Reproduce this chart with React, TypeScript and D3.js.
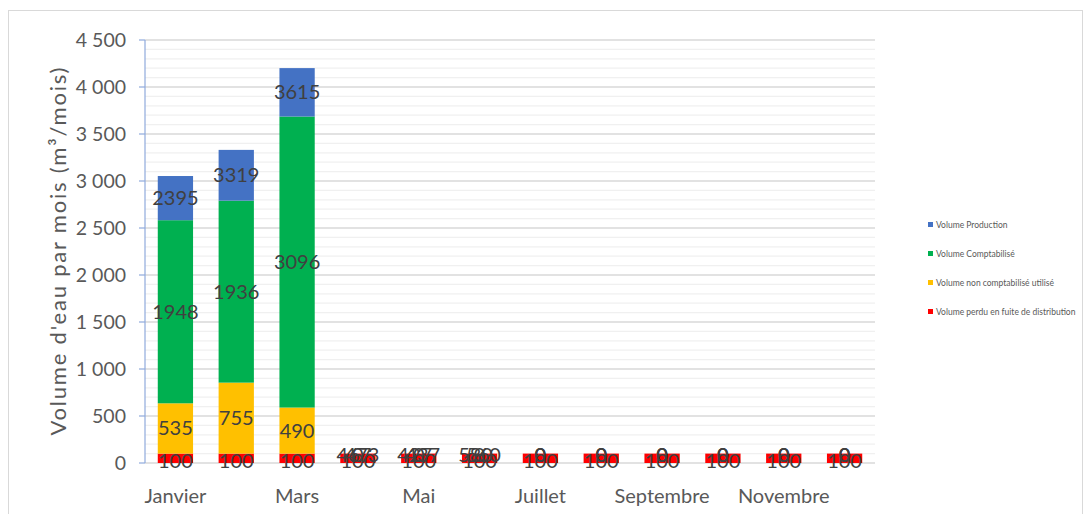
import React from "react"
import * as d3 from "d3"

// Data
const months = ["Janvier", "Février", "Mars", "Avril", "Mai", "Juin", "Juillet", "Août", "Septembre", "Octobre", "Novembre", "Décembre"]
const perdu = [100, 100, 100, 100, 100, 100, 100, 100, 100, 100, 100, 100]
const nonCompta = [535, 755, 490, 0, 0, 0, 0, 0, 0, 0, 0, 0]
const compta = [1948, 1936, 3096, 0, 0, 0, 0, 0, 0, 0, 0, 0]
const comptaLabels = [1948, 1936, 3096, 473, 437, 560, 0, 0, 0, 0, 0, 0]
// blue segment as drawn on top of the stack
const productionBar = [470, 540, 515, 0, 0, 0, 0, 0, 0, 0, 0, 0]
const productionLabels = [2395, 3319, 3615, 467, 427, 580, 0, 0, 0, 0, 0, 0]
const yTicks = [0, 500, 1000, 1500, 2000, 2500, 3000, 3500, 4000, 4500]
const legendItems = [
  { name: "Volume Production", color: "#4472C4" },
  { name: "Volume Comptabilisé", color: "#00B050" },
  { name: "Volume non comptabilisé utilisé", color: "#FFC000" },
  { name: "Volume perdu en fuite de distribution", color: "#FF0000" }
]

export default function App() {
  const totalW = 1075
  const totalH = 506
  const margin = { top: 32, left: 137, right: 208, bottom: 51 }
  const w = totalW - margin.left - margin.right
  const h = totalH - margin.top - margin.bottom

  const xScale = d3.scaleBand<string>().domain(months).range([0, w]).paddingInner(0.42).paddingOuter(0.21)
  const yScale = d3.scaleLinear().domain([0, 4500]).range([h, 0])
  const minor = d3.range(0, 4501, 100).filter((v) => v % 500 !== 0)

  const rows = months.map((m, i) => ({ m, perdu: perdu[i], nonCompta: nonCompta[i], compta: compta[i], production: productionBar[i] }))
  const keys = ["perdu", "nonCompta", "compta", "production"]
  const colors = ["#FF0000", "#FFC000", "#00B050", "#4472C4"]
  const stacked = d3.stack<any>().keys(keys)(rows)
  const labelSets = [perdu, nonCompta, comptaLabels, productionLabels]

  const font = "Lato, 'Open Sans', sans-serif"
  const bw = xScale.bandwidth()

  return (
    <svg width={totalW} height={totalH} style={{ display: "block", fontFamily: font }}>
      <rect x={0.5} y={2.5} width={totalW - 1} height={totalH + 20} fill="white" stroke="#d9d9d9" />
      <g transform={`translate(${margin.left}, ${margin.top})`}>
        {minor.map((v) => (
          <line key={`mi-${v}`} x1={0} x2={w} y1={yScale(v)} y2={yScale(v)} stroke="#f0f0f0" strokeWidth={1.2} />
        ))}
        {yTicks.map((v) => (
          <line key={`ma-${v}`} x1={0} x2={w} y1={yScale(v)} y2={yScale(v)} stroke="#d9d9d9" strokeWidth={1.4} />
        ))}
        {stacked.map((s, si) =>
          s.map((d, i) => (
            <rect
              key={`${si}-${i}`}
              x={xScale(months[i])}
              y={yScale(d[1])}
              width={bw}
              height={yScale(d[0]) - yScale(d[1])}
              fill={colors[si]}
            />
          ))
        )}
        <line x1={0} x2={0} y1={0} y2={h} stroke="#8faadc" strokeWidth={1.2} />
        {yTicks.map((v) => (
          <g key={`t-${v}`}>
            <line x1={-6} x2={0} y1={yScale(v)} y2={yScale(v)} stroke="#8faadc" strokeWidth={1.2} />
            <text x={-19} y={yScale(v)} dy="0.35em" textAnchor="end" fontSize={19.5} fill="#595959">
              {d3.format(",")(v).replace(",", " ")}
            </text>
          </g>
        ))}
        {stacked.map((s, si) =>
          s.map((d, i) => {
            const empty = d[1] - d[0] === 0
            const cx = xScale(months[i])! + bw / 2
            const cy = (yScale(d[0]) + yScale(d[1])) / 2 + (si === 0 ? 3 : 0) + (empty ? 1 : 0)
            const shift = empty && labelSets[si][i] !== 0 ? (si === 3 ? -4 : 4) : 0
            return (
              <text key={`l-${si}-${i}`} x={cx + shift} y={cy} dy="0.35em" textAnchor="middle" fontSize={20} fill="#404040">
                {labelSets[si][i]}
              </text>
            )
          })
        )}
        {months.map((m, i) =>
          i % 2 === 0 ? (
            <text key={`x-${m}`} x={xScale(m)! + bw / 2} y={h + 33} dy="0.35em" textAnchor="middle" fontSize={20} fill="#595959">
              {m}
            </text>
          ) : null
        )}
      </g>
      <text
        transform={`translate(50, ${margin.top + h / 2}) rotate(-90)`}
        textAnchor="middle"
        dy="0.35em"
        fontSize={22}
        fill="#595959"
        textLength={368}
        lengthAdjust="spacing"
      >
        Volume d'eau par mois (m³/mois)
      </text>
      {legendItems.map((it, i) => (
        <g key={it.name} transform={`translate(920, ${217 + i * 29})`}>
          <rect x={0} y={-3} width={5} height={5} fill={it.color} />
          <text x={8} y={0} dy="0.35em" fontSize={8.5} fill="#595959">
            {it.name}
          </text>
        </g>
      ))}
    </svg>
  )
}
